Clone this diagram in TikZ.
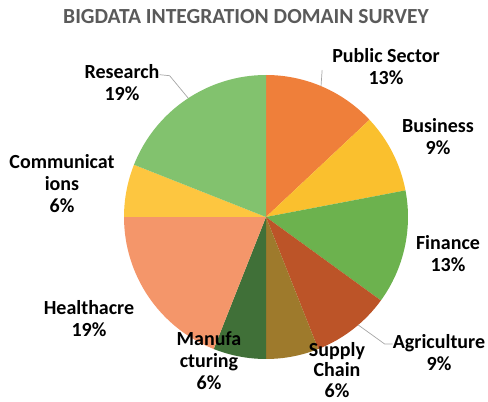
\documentclass[tikz,border=0pt]{standalone}
\usepackage{fontspec}
\setmainfont{Carlito}

\definecolor{pubsec}{HTML}{EF7F3A}
\definecolor{business}{HTML}{FAC02E}
\definecolor{finance}{HTML}{6CB24E}
\definecolor{agri}{HTML}{BC5428}
\definecolor{supply}{HTML}{9E7A2C}
\definecolor{manuf}{HTML}{407038}
\definecolor{health}{HTML}{F4966A}
\definecolor{comm}{HTML}{FDC640}
\definecolor{research}{HTML}{82C26E}
\definecolor{titlegray}{HTML}{5A5A5A}

\begin{document}
\begin{tikzpicture}[x=1pt,y=1pt,
        lbl/.style={font=\bfseries\fontsize{20}{22}\selectfont,align=center,inner sep=0pt},
        leader/.style={draw=gray!70,line width=0.7pt}]
            \def\rad{142}
            \useasboundingbox (0,0) rectangle (488,402);
            \coordinate (c) at (266,185);

            % slices, clockwise from the top
            \foreach \a\b\col in {90/43.2/pubsec,43.2/10.8/business,10.8/-36/finance,-36/-68.4/agri,-68.4/-90/supply,-90/-111.6/manuf,-111.6/-180/health,-180/-201.6/comm,-201.6/-270/research} {
                        \fill[\col] (c) -- ([shift={(\a:\rad)}]c) arc (\a:\b:\rad) -- cycle;
                  }

            \node[font=\bfseries\fontsize{21.5}{24}\selectfont,text=titlegray] (title) at (246,385) {BIGDATA INTEGRATION DOMAIN SURVEY};

            \node[lbl] (research) at (122,319) {Research\\19\%};
            \node[lbl] (pubsec) at (386,335) {Public Sector\\13\%};
            \node[lbl] (business) at (438,265) {Business\\9\%};
            \node[lbl] (finance) at (448,148) {Finance\\13\%};
            \node[lbl] (agri) at (439,49) {Agriculture\\9\%};
            \node[lbl,font=\bfseries\fontsize{20}{20.5}\selectfont] (supply) at (337,32) {Supply\\Chain\\6\%};
            \node[lbl] (manuf) at (209,41) {Manufa\\cturing\\6\%};
            \node[lbl] (health) at (89,83) {Healthacre\\19\%};
            \node[lbl] (comm) at (62,218) {Communicat\\ions\\6\%};

            % leader lines
            \coordinate (researchpt) at ([shift={(123.2:\rad)}]c);
            \coordinate (pubsecpt) at ([shift={(67.2:\rad)}]c);
            \coordinate (agript) at ([shift={(-49.5:\rad)}]c);
            \draw[leader] ([yshift=-10]research.north east) -- ++(10,-1) -- (researchpt);
            \draw[leader] ([xshift=-10,yshift=-3]pubsec.west) -- (pubsecpt);
            \draw[leader] ([yshift=9]agri.west) -- ++(-8,0) -- (agript);
      \end{tikzpicture}
\end{document}
